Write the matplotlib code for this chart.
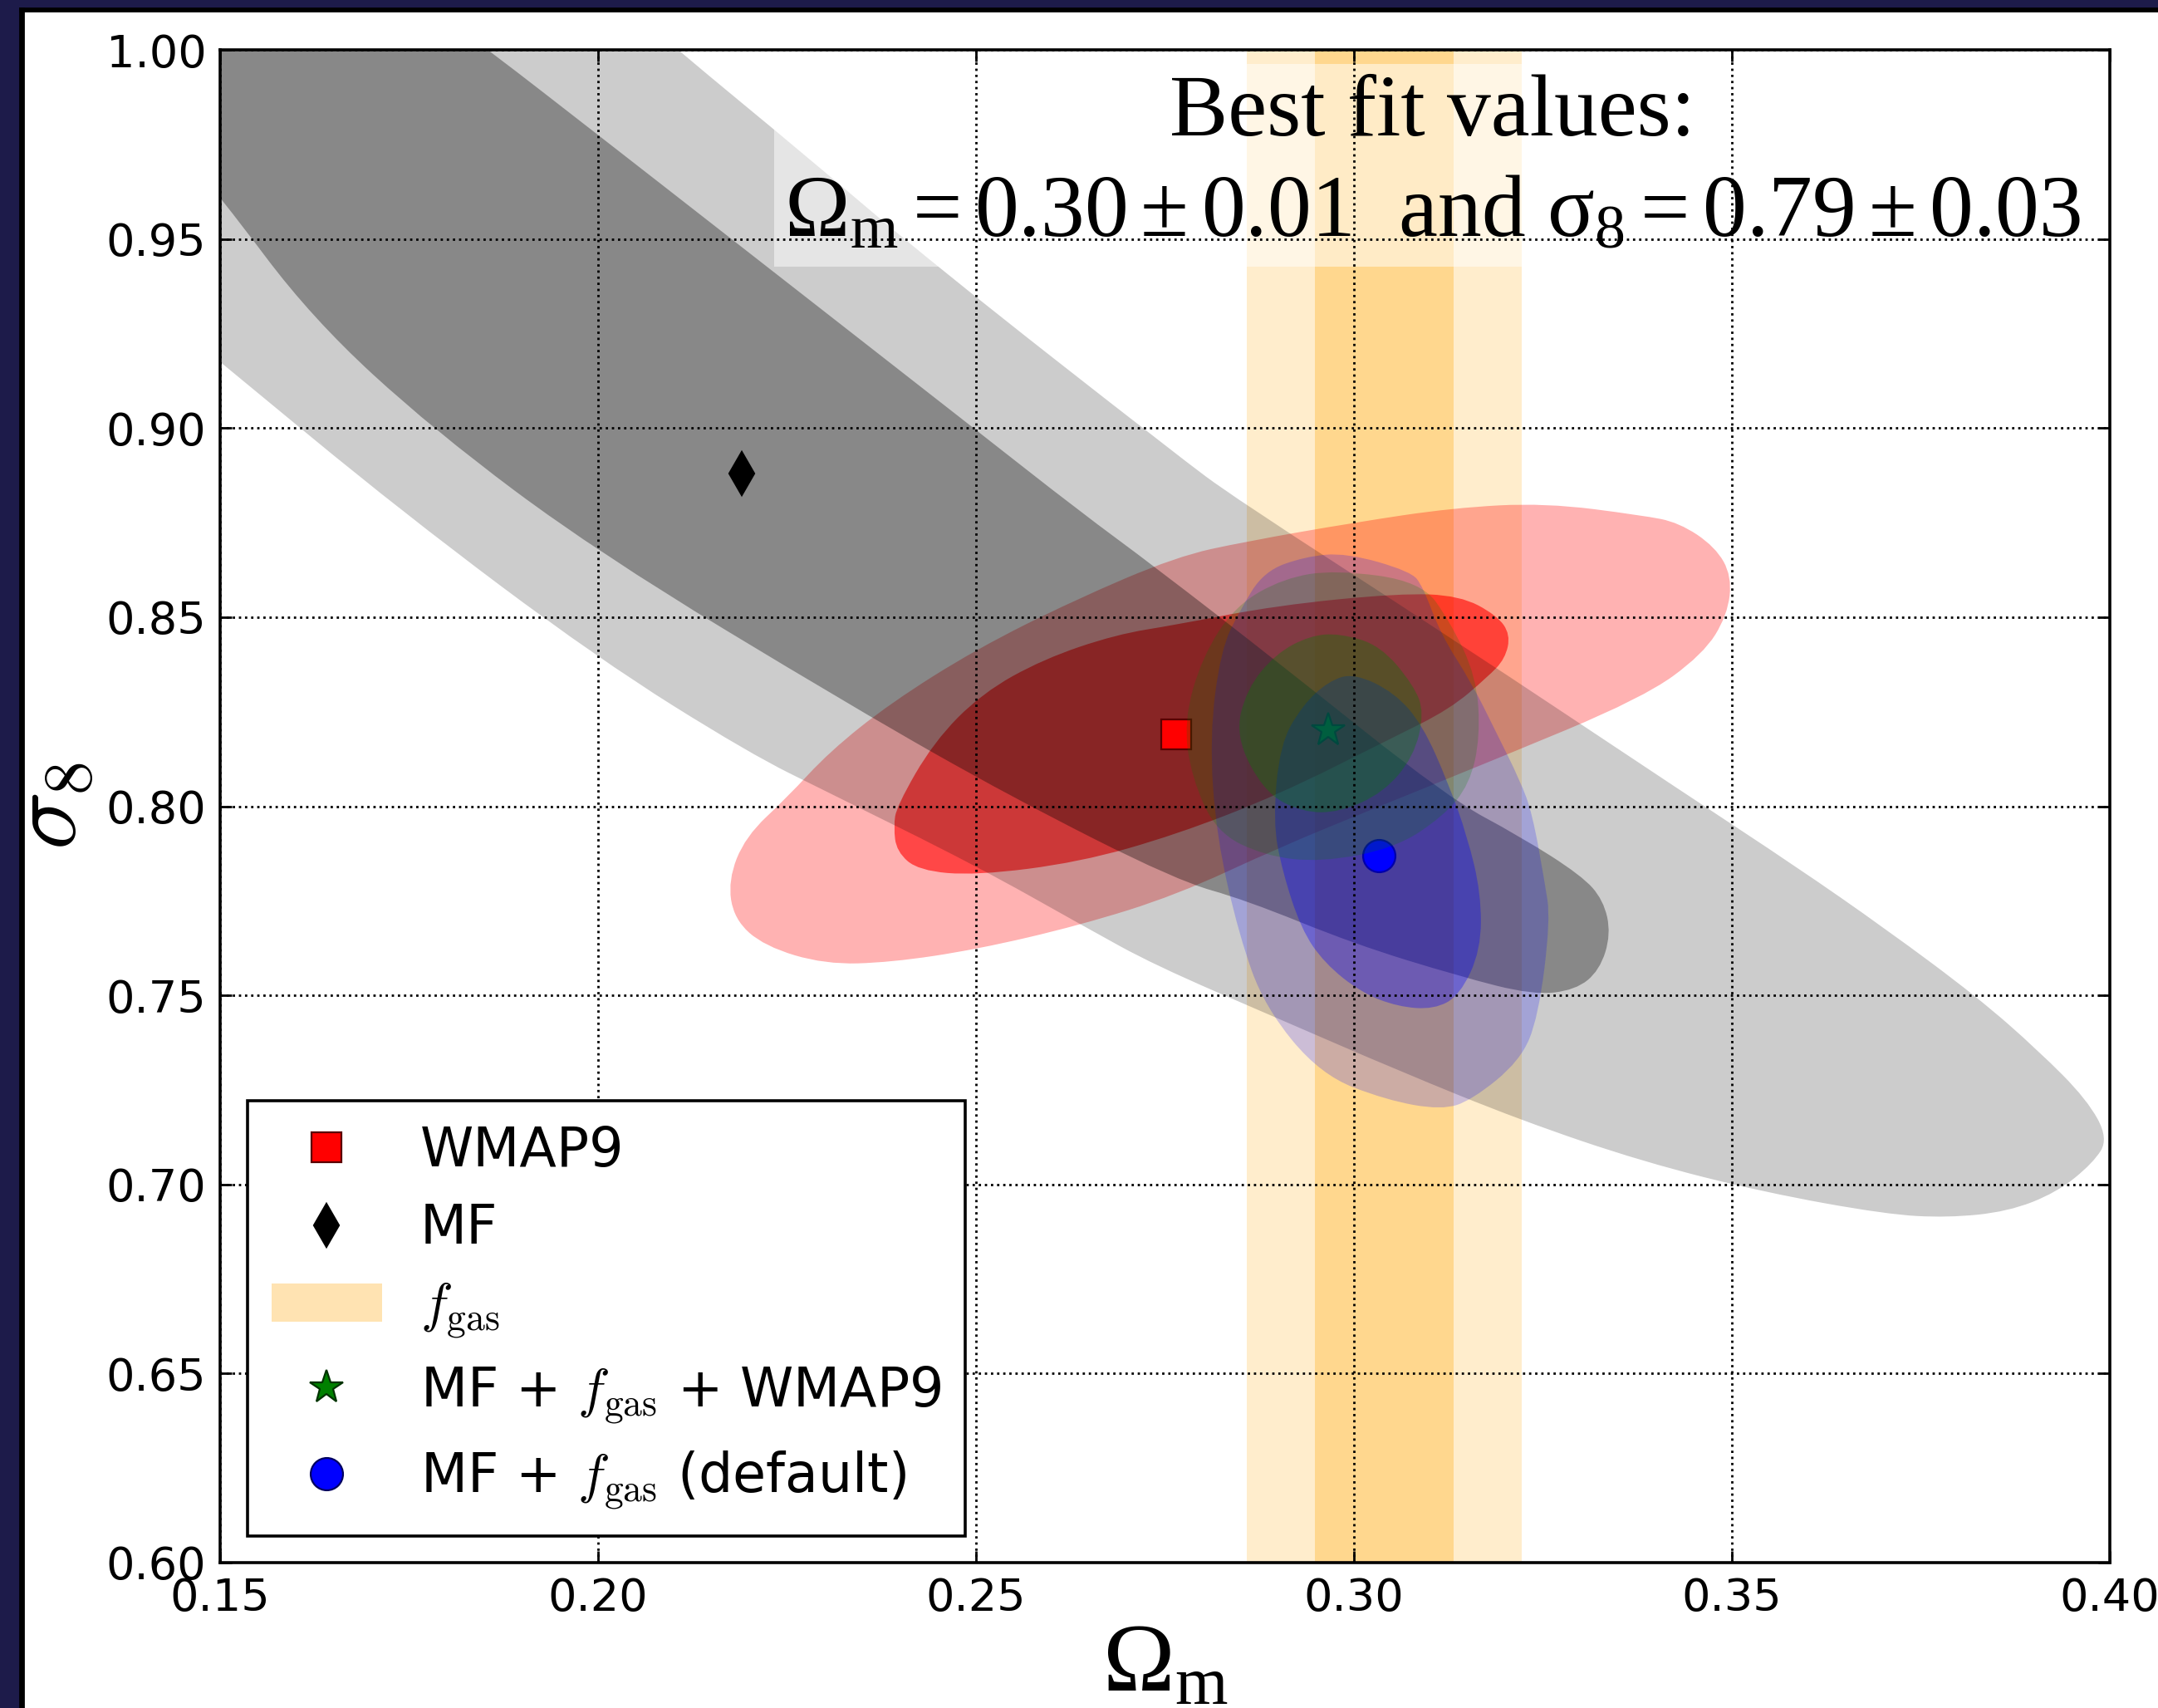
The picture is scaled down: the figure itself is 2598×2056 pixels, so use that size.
import numpy as np
import matplotlib
matplotlib.use("Agg")
import matplotlib.pyplot as plt
from matplotlib.path import Path
from matplotlib.patches import PathPatch, Rectangle, Patch

# ---------------- data ----------------
# MF constraints (2 sigma, 1 sigma) -- outlines in (Omega_m, sigma_8)
mf2_om = [0.190, 0.2105, 0.2275, 0.2444, 0.2765, 0.2843, 0.3125, 0.3446, 0.3583, 0.3704,
          0.3825, 0.3906, 0.3970, 0.3998, 0.3978, 0.3930, 0.3865, 0.3785, 0.3704, 0.3543,
          0.3382, 0.3220, 0.3060, 0.2898, 0.2736, 0.2645, 0.2500, 0.2306, 0.2200, 0.2000,
          0.1742, 0.1500, 0.1400, 0.1300, 0.1300]
mf2_s8 = [1.035, 1.000, 0.972, 0.9433, 0.893, 0.8814, 0.845, 0.8023, 0.7843, 0.7675,
          0.7495, 0.7353, 0.7224, 0.7121, 0.7057, 0.6979, 0.6928, 0.6912, 0.6921, 0.6979,
          0.7060, 0.7170, 0.7300, 0.7440, 0.7580, 0.7680, 0.7843, 0.8035, 0.8140, 0.8390,
          0.8776, 0.9175, 0.9340, 0.9500, 1.035]
mf1_om = [0.172, 0.1855, 0.2000, 0.2170, 0.2500, 0.2637, 0.2736, 0.2900, 0.3124, 0.3220,
          0.3301, 0.3330, 0.3340, 0.3325, 0.3293, 0.3237, 0.3140, 0.3000, 0.2857, 0.2765,
          0.2548, 0.2339, 0.2000, 0.1782, 0.1621, 0.1500, 0.1400, 0.1400]
mf1_s8 = [1.020, 1.000, 0.9775, 0.951, 0.8995, 0.878, 0.8634, 0.838, 0.8023, 0.792,
          0.7817, 0.7752, 0.7662, 0.7566, 0.7514, 0.7501, 0.7550, 0.7636, 0.7752, 0.7804,
          0.8023, 0.8260, 0.8670, 0.8995, 0.9291, 0.9613, 0.9850, 1.020]

# WMAP9 constraints
wm2_om = [0.2172, 0.2195, 0.2250, 0.2306, 0.2387, 0.2500, 0.2629, 0.2765, 0.2857, 0.3000,
          0.3131, 0.3253, 0.3382, 0.3430, 0.3478, 0.3500, 0.3494, 0.3462, 0.3382, 0.3180,
          0.3030, 0.2900, 0.2765, 0.2637, 0.2500, 0.2387, 0.2300, 0.2220, 0.2180]
wm2_s8 = [0.7804, 0.7920, 0.8023, 0.8144, 0.8273, 0.8415, 0.8544, 0.8660, 0.8700, 0.8750,
          0.8789, 0.8802, 0.8769, 0.8750, 0.8686, 0.8608, 0.8505, 0.8402, 0.8286, 0.8118,
          0.7997, 0.7890, 0.7765, 0.7685, 0.7621, 0.7587, 0.7582, 0.7630, 0.7701]
wm1_om = [0.2391, 0.2395, 0.2444, 0.2508, 0.2589, 0.2685, 0.2765, 0.2898, 0.3060, 0.3140,
          0.3189, 0.3207, 0.3200, 0.3177, 0.3127, 0.3050, 0.2900, 0.2765, 0.2637, 0.2500,
          0.2424, 0.2395]
wm1_s8 = [0.7946, 0.8000, 0.8170, 0.8299, 0.8389, 0.8454, 0.8480, 0.8531, 0.8563, 0.8557,
          0.8505, 0.8454, 0.8390, 0.8342, 0.8257, 0.8180, 0.8030, 0.7925, 0.7852, 0.7817,
          0.7830, 0.7880]

# MF + fgas + WMAP9 constraints
jw2_om = [0.2976, 0.3089, 0.3127, 0.3162, 0.3167, 0.3153, 0.3118, 0.3054, 0.2956, 0.2882,
          0.2818, 0.2785, 0.2775, 0.2799, 0.2843, 0.2907]
jw2_s8 = [0.8625, 0.8594, 0.8489, 0.8342, 0.8184, 0.8058, 0.7973, 0.7889, 0.7852, 0.7869,
          0.7931, 0.8078, 0.8225, 0.8394, 0.8530, 0.8603]
jw1_om = [0.2942, 0.2981, 0.3035, 0.3079, 0.3093, 0.3079, 0.3039, 0.2981, 0.2932, 0.2882,
          0.2843, 0.2858, 0.2897]
jw1_s8 = [0.8451, 0.8457, 0.8425, 0.8320, 0.8247, 0.8131, 0.8036, 0.7984, 0.7984, 0.8036,
          0.8184, 0.8310, 0.8404]

# MF + fgas (default) constraints
jd2_om = [0.2990, 0.3075, 0.3091, 0.3115, 0.3156, 0.3188, 0.3220, 0.3236, 0.3252, 0.3260,
          0.3244, 0.3220, 0.3156, 0.3116, 0.3043, 0.2956, 0.2882, 0.2848, 0.2818, 0.2809,
          0.2824, 0.2849, 0.2881, 0.2935]
jd2_s8 = [0.8670, 0.8621, 0.8582, 0.8454, 0.8325, 0.8196, 0.8067, 0.7980, 0.7804, 0.7700,
          0.7443, 0.7327, 0.7223, 0.7197, 0.7223, 0.7290, 0.7469, 0.7659, 0.7921, 0.8184,
          0.8414, 0.8518, 0.8621, 0.8660]
jd1_om = [0.3000, 0.3054, 0.3091, 0.3125, 0.3150, 0.3168, 0.3168, 0.3140, 0.3106, 0.3058,
          0.3010, 0.2961, 0.2930, 0.2905, 0.2893, 0.2902, 0.2932, 0.2966]
jd1_s8 = [0.8352, 0.8300, 0.8214, 0.8060, 0.7920, 0.7770, 0.7620, 0.7500, 0.7463, 0.7470,
          0.7507, 0.7585, 0.7676, 0.7830, 0.7959, 0.8163, 0.8267, 0.8330]

# fgas Omega_m bands (2 sigma, 1 sigma)
fgas_2s = [0.2858, 0.3222]
fgas_1s = [0.2948, 0.3132]

# best-fit points
pt_wmap9 = (0.2765, 0.819)
pt_mf = (0.219, 0.888)
pt_mf_fgas_wmap9 = (0.2966, 0.820)
pt_mf_fgas = (0.3033, 0.787)

legend_labels = ['WMAP9', 'MF', r'$f_{\rm gas}$',
                 r'MF + $f_{\rm gas}$ + WMAP9', r'MF + $f_{\rm gas}$ (default)']
xticks = [0.15, 0.20, 0.25, 0.30, 0.35, 0.40]
yticks = [0.60, 0.65, 0.70, 0.75, 0.80, 0.85, 0.90, 0.95, 1.00]
best_fit_text = ("Best fit values:\n" +
                 r"Ω$_{\rm m}=0.30\pm0.01$  and σ$_{8}=0.79\pm0.03$")

# ---------------- style ----------------
plt.rcParams['font.family'] = ['DejaVu Sans']
plt.rcParams['mathtext.fontset'] = 'cm'
plt.rcParams['mathtext.rm'] = 'Liberation Serif'
plt.rcParams['mathtext.it'] = 'Liberation Serif:italic'
plt.rcParams['mathtext.bf'] = 'Liberation Serif:bold'

W, H, DPI = 2598, 2056, 200
fig = plt.figure(figsize=(W / DPI, H / DPI), dpi=DPI, facecolor='white')

# slide frame (navy strip + black line on left/top)
navy = '#1d1b4a'
fig.patches.append(Rectangle((0, 0), 24 / W, 1, transform=fig.transFigure, color=navy, zorder=0))
fig.patches.append(Rectangle((0, 1 - 10 / H), 1, 10 / H, transform=fig.transFigure, color=navy, zorder=0))
fig.patches.append(Rectangle((24 / W, 0), 4 / W, 1 - 10 / H, transform=fig.transFigure, color='black', zorder=0))
fig.patches.append(Rectangle((24 / W, 1 - 13 / H), 1, 3 / H, transform=fig.transFigure, color='black', zorder=0))

ax = fig.add_axes([265 / W, 1 - 1881 / H, (2540 - 265) / W, (1881 - 60) / H])


def smooth_closed(xs, ys):
    pts = np.column_stack([xs, ys])
    mids = (pts + np.roll(pts, -1, axis=0)) / 2.0
    verts = [mids[-1]]
    codes = [Path.MOVETO]
    for i in range(len(pts)):
        verts += [pts[i], mids[i]]
        codes += [Path.CURVE3, Path.CURVE3]
    verts.append(mids[-1])
    codes.append(Path.CLOSEPOLY)
    return Path(np.array(verts), codes)


def region(xs, ys, color, alpha, z):
    ax.add_patch(PathPatch(smooth_closed(xs, ys), facecolor=color, alpha=alpha,
                           edgecolor='none', lw=0, zorder=z))


# fgas bands
ax.axvspan(fgas_2s[0], fgas_2s[1], color='orange', alpha=0.2, lw=0, zorder=0.6)
ax.axvspan(fgas_1s[0], fgas_1s[1], color='orange', alpha=0.3, lw=0, zorder=0.7)

# WMAP9
region(wm2_om, wm2_s8, 'red', 0.3, 0.8)
region(wm1_om, wm1_s8, 'red', 0.6, 0.9)
# MF
region(mf2_om, mf2_s8, 'black', 0.2, 1.0)
region(mf1_om, mf1_s8, 'black', 0.333, 1.1)

# best fit markers
l1, = ax.plot(*pt_wmap9, 's', color='red', ms=13, mec='#5a0000', mew=0.8, zorder=1.2, ls='none')
l2, = ax.plot(*pt_mf, 'd', color='black', ms=13, mec='black', mew=0.8, zorder=1.2, ls='none')
l3, = ax.plot(*pt_mf_fgas_wmap9, '*', color='green', ms=15, mec='#003300', mew=0.8, zorder=1.2, ls='none')
l4, = ax.plot(*pt_mf_fgas, 'o', color='blue', ms=14, mec='#000060', mew=0.8, zorder=1.2, ls='none')

# MF + fgas (default)
region(jd2_om, jd2_s8, 'blue', 0.2, 1.3)
region(jd1_om, jd1_s8, 'blue', 0.33, 1.4)
# MF + fgas + WMAP9
region(jw2_om, jw2_s8, 'green', 0.2, 1.5)
region(jw1_om, jw1_s8, 'green', 0.32, 1.6)

ax.set_xlim(xticks[0], xticks[-1])
ax.set_ylim(yticks[0], yticks[-1])
ax.set_xticks(xticks)
ax.set_yticks(yticks)
ax.set_xticklabels([f"{v:.2f}" for v in xticks])
ax.set_yticklabels([f"{v:.2f}" for v in yticks])
ax.tick_params(direction='in', top=True, right=True, length=5, width=1.0,
               labelsize=19.5, pad=6)
ax.set_axisbelow(False)
ax.grid(True, color='black', ls=':', lw=1.0)
for s in ax.spines.values():
    s.set_linewidth(1.3)

ax.set_xlabel(r"Ω$_{\rm m}$", fontsize=42, family='Liberation Serif',
              math_fontfamily='custom', labelpad=2)
ax.set_ylabel(r"$\sigma_8$", fontsize=42, labelpad=4)

ax.text(0.3104, 0.9455, best_fit_text, fontsize=38, family='Liberation Serif',
        math_fontfamily='custom', ha='center', va='bottom', multialignment='center',
        linespacing=1.35, zorder=2,
        bbox=dict(boxstyle='square,pad=0.12', facecolor='white',
                  alpha=0.5, edgecolor='none'))

fgas_proxy = Patch(facecolor='orange', alpha=0.3, edgecolor='none')
leg = ax.legend([l1, l2, fgas_proxy, l3, l4], legend_labels, loc='lower left',
                fontsize=23.4, numpoints=1, fancybox=False, framealpha=1,
                edgecolor='black', borderpad=0.45, labelspacing=0.45,
                handlelength=2.05, handletextpad=0.7, borderaxespad=0.5)
leg.get_frame().set_linewidth(1.3)
leg.set_zorder(5)

fig.savefig('out.png', dpi=DPI, facecolor='white')
